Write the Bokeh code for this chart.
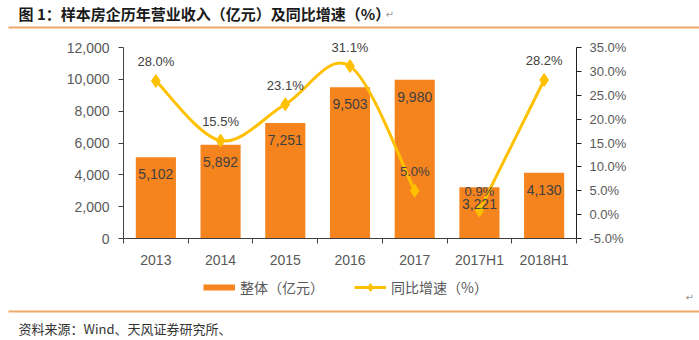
import numpy as np
from bokeh.plotting import figure
from bokeh.layouts import column
from bokeh.models import (Range1d, LinearAxis, FixedTicker, LegendItem, Legend,
                          NumeralTickFormatter)
from bokeh.core.properties import value
from bokeh.embed import file_html
from bokeh.resources import INLINE

# ---- data ----
categories = ["2013", "2014", "2015", "2016", "2017", "2017H1", "2018H1"]
revenue = [5102, 5892, 7251, 9503, 9980, 3221, 4130]
growth = [28.0, 15.5, 23.1, 31.1, 5.0, 0.9, 28.2]
line_groups = [[0, 1, 2, 3, 4], [5, 6]]  # annual series / half-year series (line broken between)
left_ticks = [0, 2000, 4000, 6000, 8000, 10000, 12000]
right_ticks = [-5, 0, 5, 10, 15, 20, 25, 30, 35]

title_text = "图 1：样本房企历年营业收入（亿元）及同比增速（%）"
source_text = "资料来源：Wind、天风证券研究所、"
legend_labels = ["整体（亿元）", "同比增速（%）"]

BAR = "#F5841F"
LINE = "#FFC000"
AXIS = "#404040"
TICKTXT = "#595959"
DEC = "#F0A868"

W = 699
H_TOP, H_MAIN, H_BOT = 30, 240, 70
FL, FR = 123, 576          # frame left/right (px)
F_TOP, F_BOT = 1, 32       # main figure borders (frame from canvas y 31 to 238)
AX_PX = 191                # pixel height of the 0..12000 axis span


def blank(height, y_top):
    f = figure(width=W, height=height, output_backend="svg", toolbar_location=None,
               x_range=Range1d(0, W), y_range=Range1d(y_top + height, y_top),
               x_axis_type=None, y_axis_type=None, min_border=0, frame_align=False)
    f.grid.visible = False
    f.outline_line_color = None
    f.background_fill_color = "white"
    f.border_fill_color = "white"
    return f


# ---------------- header ----------------
top = blank(H_TOP, 0)
top.text(x=[18], y=[13], text=[title_text], text_font=value("Noto Sans CJK SC"),
         text_font_style="bold", text_font_size="15px", text_color="#1a1a1a",
         text_baseline="middle")
top.text(x=[385], y=[14], text=["↵"], text_font=value("DejaVu Sans"),
         text_font_size="10px", text_color="#9a9a9a", text_baseline="middle")
top.segment(x0=[8], y0=[27], x1=[W], y1=[27], line_color=DEC, line_width=2)

# ---------------- main chart ----------------
frame_px = H_MAIN - F_TOP - F_BOT
y_end = left_ticks[-1] * frame_px / AX_PX
pct_end = right_ticks[0] + (right_ticks[-1] - right_ticks[0]) * frame_px / AX_PX

p = figure(width=W, height=H_MAIN, output_backend="svg", toolbar_location=None,
           x_range=Range1d(-0.5, len(categories) - 0.5), y_range=Range1d(0, y_end),
           min_border_left=FL, min_border_right=W - FR, min_border_top=F_TOP,
           min_border_bottom=F_BOT, frame_align=False)
p.extra_y_ranges = {"pct": Range1d(right_ticks[0], pct_end)}
p.grid.visible = False
p.outline_line_color = None
p.background_fill_color = "white"
p.border_fill_color = "white"

xs = list(range(len(categories)))

p.vbar(x=xs, top=revenue, width=0.62, fill_color=BAR, line_color=None)

# smoothed growth line: cubic bezier segments with Catmull-Rom style control points
x0, y0, x1, y1, cx0, cy0, cx1, cy1 = [], [], [], [], [], [], [], []
for g in line_groups:
    gx = np.array([xs[i] for i in g], dtype=float)
    gy = np.array([growth[i] for i in g], dtype=float)
    n = len(g)
    for i in range(n - 1):
        im1 = max(i - 1, 0)
        ip2 = min(i + 2, n - 1)
        x0.append(gx[i]); y0.append(gy[i])
        x1.append(gx[i + 1]); y1.append(gy[i + 1])
        cx0.append(gx[i] + (gx[i + 1] - gx[im1]) / 6.0)
        cy0.append(gy[i] + (gy[i + 1] - gy[im1]) / 6.0)
        cx1.append(gx[i + 1] - (gx[ip2] - gx[i]) / 6.0)
        cy1.append(gy[i + 1] - (gy[ip2] - gy[i]) / 6.0)
p.bezier(x0=x0, y0=y0, x1=x1, y1=y1, cx0=cx0, cy0=cy0, cx1=cx1, cy1=cy1,
         line_color=LINE, line_width=3, line_cap="round", y_range_name="pct")
p.scatter(x=xs, y=growth, marker="diamond", size=13, fill_color=LINE,
          line_color=LINE, y_range_name="pct")

p.text(x=xs, y=revenue, text=[f"{v:,}" for v in revenue],
       text_font=value("Liberation Sans"), text_font_size="14px",
       text_color="#404040", text_align="center", text_baseline="middle",
       y_offset=17)
p.text(x=xs, y=growth, text=[f"{v:.1f}%" for v in growth],
       text_font=value("Liberation Sans"), text_font_size="13px",
       text_color="#404040", text_align="center", text_baseline="middle",
       y_offset=-19, y_range_name="pct")

la = p.yaxis[0]
la.ticker = FixedTicker(ticks=left_ticks)
la.bounds = (left_ticks[0], left_ticks[-1])
la.formatter = NumeralTickFormatter(format="0,0")
la.axis_line_color = AXIS
la.major_tick_line_color = AXIS
la.major_tick_out = 5
la.major_tick_in = 0
la.minor_tick_line_color = None
la.major_label_text_font = "Liberation Sans"
la.major_label_text_font_size = "14px"
la.major_label_text_color = TICKTXT
la.major_label_standoff = 9

ra = LinearAxis(y_range_name="pct", ticker=FixedTicker(ticks=right_ticks),
                bounds=(right_ticks[0], right_ticks[-1]),
                major_label_overrides={t: f"{t:.1f}%" for t in right_ticks})
ra.axis_line_color = "#202020"
ra.major_tick_line_color = "#202020"
ra.major_tick_out = 5
ra.major_tick_in = 0
ra.minor_tick_line_color = None
ra.major_label_text_font = "Liberation Sans"
ra.major_label_text_font_size = "13px"
ra.major_label_text_color = TICKTXT
ra.major_label_standoff = 8
p.add_layout(ra, "right")

xa = p.xaxis[0]
xa.ticker = FixedTicker(ticks=xs, minor_ticks=[i - 0.5 for i in range(len(categories) + 1)])
xa.major_label_overrides = {i: c for i, c in enumerate(categories)}
xa.axis_line_color = AXIS
xa.major_tick_out = 0
xa.major_tick_in = 0
xa.minor_tick_out = 5
xa.minor_tick_in = 0
xa.minor_tick_line_color = AXIS
xa.major_label_text_font = "Liberation Sans"
xa.major_label_text_font_size = "14px"
xa.major_label_text_color = TICKTXT
xa.major_label_standoff = 8

# ---------------- footer: legend, rule, source ----------------
Y0 = H_TOP + H_MAIN
bot = blank(H_BOT, Y0)
bar_dummy = bot.line(x=[0, 1], y=[-999, -999], line_color=BAR, line_width=6)
line_dummy = bot.line(x=[0, 1], y=[-999, -999], line_color=LINE, line_width=3)
mark_dummy = bot.scatter(x=[0], y=[-999], marker="diamond", size=10, fill_color=LINE,
                         line_color=LINE)
legend = Legend(items=[LegendItem(label=legend_labels[0], renderers=[bar_dummy]),
                       LegendItem(label=legend_labels[1], renderers=[line_dummy, mark_dummy])],
                orientation="horizontal", location=(203, Y0 + H_BOT - 297),
                glyph_width=32, glyph_height=20, label_standoff=5, spacing=30,
                padding=0, margin=0, border_line_color=None, background_fill_alpha=0,
                label_text_font="Noto Sans CJK SC", label_text_font_size="14px",
                label_text_color=TICKTXT)
bot.add_layout(legend, "center")
bot.segment(x0=[8], y0=[311], x1=[W], y1=[311], line_color=DEC, line_width=2)
bot.text(x=[18], y=[328], text=[source_text], text_font=value("Noto Sans CJK SC"),
         text_font_size="13px", text_color="#333333", text_baseline="middle")
bot.text(x=[685], y=[297], text=["↵"], text_font=value("DejaVu Sans"),
         text_font_size="10px", text_color="#9a9a9a", text_baseline="middle")

layout = column(top, p, bot, spacing=0)
open("out.html", "w").write(file_html(layout, INLINE))
